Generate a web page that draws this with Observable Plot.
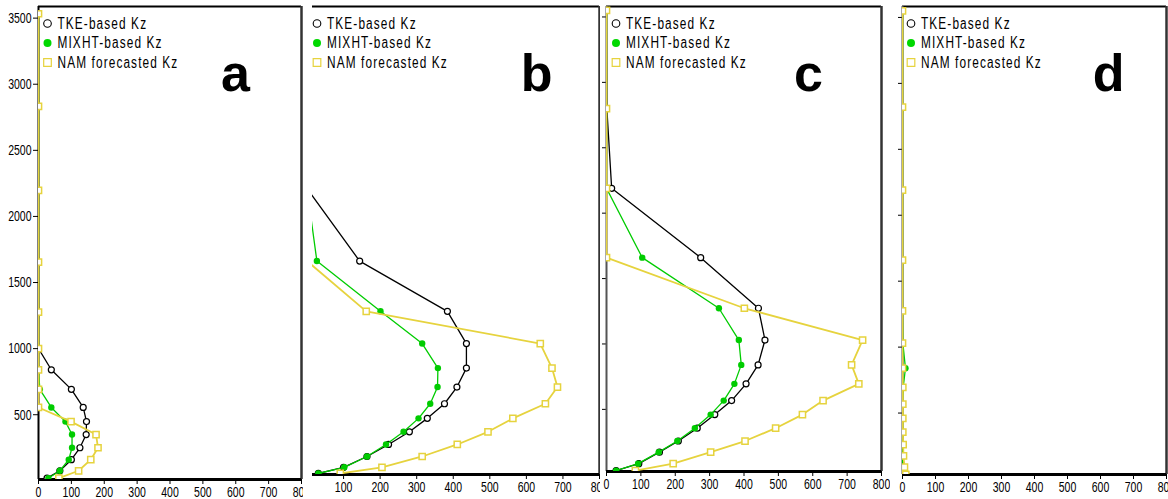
<!DOCTYPE html>
<html><head><meta charset="utf-8">
<script src="https://cdn.jsdelivr.net/npm/d3@7"></script>
<script src="https://cdn.jsdelivr.net/npm/@observablehq/plot@0.6"></script>
<style>
html,body{margin:0;padding:0;background:#fff;width:1168px;height:499px;overflow:hidden;}
#wrap{position:relative;width:1168px;height:499px;background:#fff;}
#wrap svg{position:absolute;top:0;}
</style></head><body><div id="wrap"></div>
<script>
// ---- tick labels / categories ----
const xTicks = [0, 100, 200, 300, 400, 500, 600, 700, 800];
const yTicks = [500, 1000, 1500, 2000, 2500, 3000, 3500];
const seriesNames = ["TKE-based Kz", "MIXHT-based Kz", "NAM forecasted Kz"];
const panelLetters = ["a", "b", "c", "d"];

// ---- panel a ----
const levelsA = [20, 76, 160, 250, 350, 448, 555, 692, 840, 1000, 1276, 1654, 2197, 2832, 3533];
const tkeA    = [26, 65, 100, 126, 145, 146, 136, 100, 39, 0, 0, 0, 0, 0, 0];
const mixA    = [30, 65, 92, 102, 102, 82, 39, 4, 0, 0, 0, 0, 0, 0, 0];
const namA    = [62, 122, 159, 181, 175, 99, 0, 0, 0, 0, 0, 0, 0, 0, 0];

// ---- panel b ----
const levelsB = [8, 55, 138, 230, 327, 430, 542, 670, 815, 1003, 1250, 1635, 2190, 2830, 3540];
const tkeB    = [31, 100, 164, 223, 280, 329, 376, 410, 436, 436, 384, 144, 0, 0, 0];
const mixB    = [31, 102, 164, 216, 264, 305, 337, 357, 358, 315, 201, 27, 0, 0, 0];
const namB    = [91, 205, 315, 411, 495, 563, 652, 685, 670, 638, 162, 0, 0, 0, 0];

// ---- panel c ----
const levelsC = [32, 85, 173, 258, 356, 460, 567, 695, 840, 1030, 1273, 1660, 2190, 2800, 3550];
const tkeC    = [28, 94, 154, 209, 264, 315, 364, 406, 441, 461, 442, 274, 15, 1, 0];
const mixC    = [28, 92, 152, 206, 257, 303, 341, 372, 392, 385, 327, 104, 0, 0, 0];
const namC    = [84, 194, 303, 403, 492, 570, 630, 734, 713, 745, 401, 0, 0, 0, 0];

// ---- panel d ----
const levelsD = [35, 90, 175, 260, 355, 460, 567, 695, 840, 1030, 1275, 1660, 2190, 2820, 3550];
const tkeD    = [3, 1, 0, 0, 0, 0, 0, 0, 0, 0, 0, 0, 0, 0, 0];
const mixD    = [1, 1, 0, 0, 1, 0, 0, 2, 9, 1, 0, 0, 0, 0, 0];
const namD    = [10, 6, 3, 2, 1, 1, 1, 1, 0, 0, 0, 0, 0, 0, 0];

const COL = {tke: "#000000", mix: "#00cc00", nam: "#e6d33e"};
const SANS = "'Liberation Sans',Arial,Helvetica,sans-serif";

const panels = [
  {levels: levelsA, tke: tkeA, mix: mixA, nam: namA, letter: panelLetters[0],
   left: 0, width: 303, ml: 38, mr: 2, mb: 20, xDomain: [0, 800], yDomain: [10, 3588],
   yAxis: "labels", leftLine: "#000", legendDx: 9, letterDx: 197},
  {levels: levelsB, tke: tkeB, mix: mixB, nam: namB, letter: panelLetters[1],
   left: 303, width: 297, ml: 9, mr: 1, mb: 25, xDomain: [15, 800], yDomain: [0, 3585],
   yAxis: null, leftLine: null, legendDx: 4.5, letterDx: 224},
  {levels: levelsC, tke: tkeC, mix: mixC, nam: namC, letter: panelLetters[2],
   left: 600, width: 290, ml: 6, mr: 9, mb: 28, xDomain: [0, 800], yDomain: [25, 3580],
   yAxis: "ticks", leftLine: "#555", legendDx: 9.5, letterDx: 202},
  {levels: levelsD, tke: tkeD, mix: mixD, nam: namD, letter: panelLetters[3],
   left: 890, width: 278, ml: 12, mr: 2, mb: 25, xDomain: [0, 800], yDomain: [34, 3583],
   yAxis: "ticks", leftLine: "#555", legendDx: 8.5, letterDx: 206}
];

function makePanel(p) {
  const rows = p.levels.map((h, i) => ({h, tke: p.tke[i], mix: p.mix[i], nam: p.nam[i]}));
  const marks = [];
  marks.push(Plot.axisX(xTicks.filter(t => t >= p.xDomain[0]), {
    tickSize: 5, tickPadding: 1.5, fontSize: 15, fontFamily: SANS, label: null, stroke: "#000",
    tickFormat: d => String(d)
  }));
  if (p.yAxis === "labels") {
    marks.push(Plot.axisY(yTicks, {anchor: "left", tickSize: 5, tickPadding: 2, fontSize: 15,
      fontFamily: SANS, label: null, stroke: "#000", tickFormat: d => String(d)}));
  } else if (p.yAxis === "ticks") {
    marks.push(Plot.axisY(yTicks.filter(t => t > p.yDomain[0]), {anchor: "left", tickSize: 4,
      tickFormat: () => "", label: null, stroke: "#000"}));
  }
  // frame
  marks.push(Plot.ruleY([p.yDomain[1]], {stroke: "#000", strokeWidth: 2}));
  marks.push(Plot.ruleX([p.xDomain[1]], {stroke: "#333", strokeWidth: 2.5}));
  if (p.leftLine) marks.push(Plot.ruleX([p.xDomain[0]], {stroke: p.leftLine, strokeWidth: 2}));
  marks.push(Plot.ruleY([p.yDomain[0]], {stroke: "#000", strokeWidth: 3}));
  // series
  marks.push(Plot.line(rows, {x: "tke", y: "h", stroke: COL.tke, strokeWidth: 1.3, clip: true}));
  marks.push(Plot.dot(rows, {filter: d => d.tke > 3, x: "tke", y: "h", r: 3, stroke: COL.tke,
    fill: "#fff", strokeWidth: 1.2, clip: true}));
  marks.push(Plot.line(rows, {x: "mix", y: "h", stroke: COL.mix, strokeWidth: 1.3, clip: true}));
  marks.push(Plot.dot(rows, {filter: d => d.mix > 3, x: "mix", y: "h", r: 3.2, fill: COL.mix,
    stroke: "none", clip: true}));
  marks.push(Plot.line(rows, {x: "nam", y: "h", stroke: COL.nam, strokeWidth: 1.8, clip: true}));
  marks.push(Plot.dot(rows, {x: "nam", y: "h", symbol: "square", r: 3.5, stroke: COL.nam,
    fill: "#fff", strokeWidth: 1.5, clip: true}));
  // legend
  const rowsDy = [17, 36.5, 56];
  marks.push(Plot.dot([0], {frameAnchor: "top-left", dx: p.legendDx, dy: rowsDy[0], r: 3.8,
    stroke: COL.tke, fill: "#fff", strokeWidth: 1.1}));
  marks.push(Plot.dot([0], {frameAnchor: "top-left", dx: p.legendDx, dy: rowsDy[1], r: 4,
    fill: "#00d800", stroke: "none"}));
  marks.push(Plot.dot([0], {frameAnchor: "top-left", dx: p.legendDx, dy: rowsDy[2], r: 4.3,
    symbol: "square", stroke: COL.nam, fill: "#fff", strokeWidth: 1.2}));
  seriesNames.forEach((name, i) => {
    marks.push(Plot.text([name], {frameAnchor: "top-left", dx: p.legendDx + 10, dy: rowsDy[i],
      textAnchor: "start", lineAnchor: "middle", fontSize: 16, fontFamily: SANS, fill: "#000"}));
  });
  marks.push(Plot.text([p.letter], {frameAnchor: "top-left", dx: p.letterDx, dy: 68,
    textAnchor: "middle", lineAnchor: "middle", fontSize: 52, fontWeight: "bold",
    fontFamily: SANS, fill: "#000"}));

  return Plot.plot({
    width: p.width, height: 499,
    marginLeft: p.ml, marginRight: p.mr, marginTop: 6, marginBottom: p.mb,
    x: {domain: p.xDomain, label: null},
    y: {domain: p.yDomain, label: null, axis: p.yAxis ? undefined : null},
    style: {overflow: "hidden", background: "transparent", left: p.left + "px",
      position: "absolute", top: "0px", maxWidth: "none"},
    marks
  });
}

const wrap = document.getElementById("wrap");
const svgs = panels.map(p => wrap.appendChild(makePanel(p)));

// squeeze text horizontally (the original uses a tall, narrow plotter font)
function squeeze(el, sx) {
  const len = el.getComputedTextLength();
  if (len > 0) {
    el.setAttribute("textLength", (len * sx).toFixed(2));
    el.setAttribute("lengthAdjust", "spacingAndGlyphs");
  }
}
svgs.forEach(svg => {
  d3.select(svg).selectAll("text").each(function () {
    const s = this.textContent;
    if (/Kz$/.test(s)) {
      this.style.letterSpacing = "1.5px";
      squeeze(this, 0.74);
    } else if (/^\d+$/.test(s)) {
      squeeze(this, 0.7);
    }
  });
});
</script>
</body></html>
